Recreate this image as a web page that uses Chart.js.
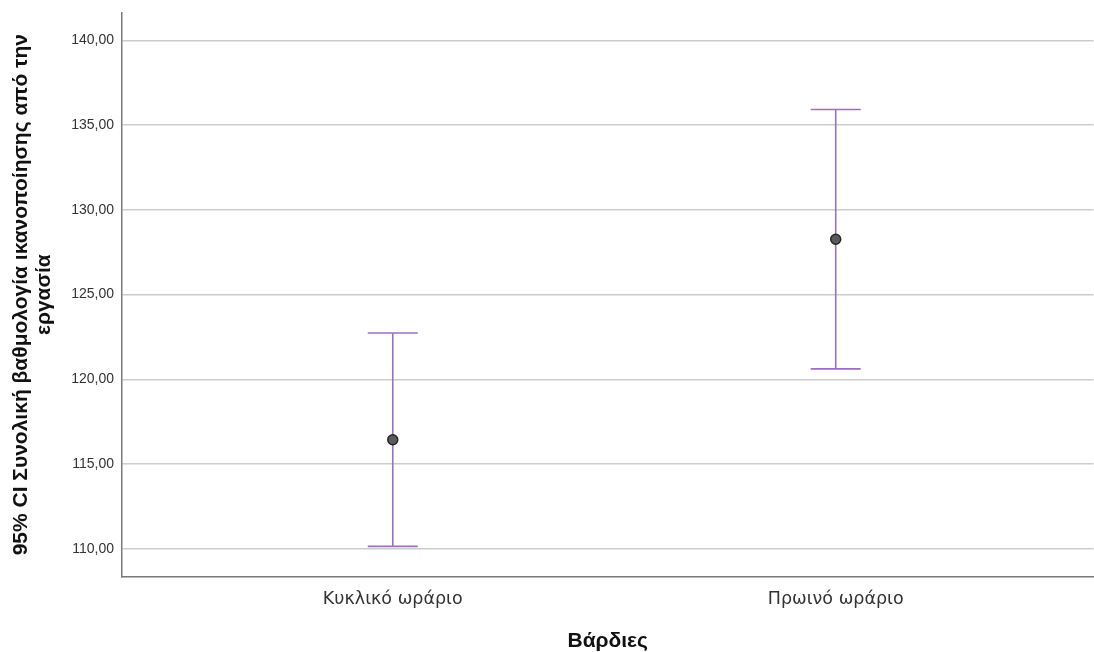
<!DOCTYPE html>
<html>
<head>
<meta charset="utf-8">
<script src="https://cdn.jsdelivr.net/npm/chart.js@4.4.1/dist/chart.umd.min.js"></script>
<style>
  html, body { margin: 0; padding: 0; background: #fff; overflow: hidden; }
  #wrap { width: 1100px; height: 656px; position: relative; margin-top: -4px; }
</style>
</head>
<body>
<div id="wrap"><canvas id="ciChart"></canvas></div>
<script>
// data
const categories = ['Κυκλικό ωράριο', 'Πρωινό ωράριο'];
const means = [116.43, 128.26];
const lowerCI = [110.14, 120.61];
const upperCI = [122.73, 135.92];
const yTicks = [110, 115, 120, 125, 130, 135, 140];

const barColor = '#9e6fc0';

// draws the CI whiskers + caps using the chart scales
const errorBars = {
    id: 'errorBars',
    beforeDatasetsDraw(chart) {
        const { ctx, scales: { x, y } } = chart;
        const capHalf = 25;
        ctx.save();
        ctx.strokeStyle = barColor;
        ctx.lineWidth = 1.6;
        categories.forEach((c, i) => {
            const px = x.getPixelForValue(i + 1);
            const top = y.getPixelForValue(upperCI[i]);
            const bot = y.getPixelForValue(lowerCI[i]);
            ctx.beginPath();
            ctx.moveTo(px, top);
            ctx.lineTo(px, bot);
            ctx.moveTo(px - capHalf, top);
            ctx.lineTo(px + capHalf, top);
            ctx.moveTo(px - capHalf, bot);
            ctx.lineTo(px + capHalf, bot);
            ctx.stroke();
        });
        ctx.restore();
    }
};

const ctx = document.getElementById('ciChart').getContext('2d');
new Chart(ctx, {
    type: 'scatter',
    data: {
        datasets: [{
            data: means.map((m, i) => ({ x: i + 1, y: m })),
            pointRadius: 5,
            pointBackgroundColor: '#5b5b5b',
            pointBorderColor: '#262626',
            pointBorderWidth: 1.5,
            showLine: false
        }]
    },
    plugins: [errorBars],
    options: {
        responsive: true,
        maintainAspectRatio: false,
        animation: false,
        layout: { padding: 0 },
        plugins: { legend: { display: false }, tooltip: { enabled: false } },
        scales: {
            x: {
                type: 'linear',
                min: 0.3887,
                max: 2.582,
                afterBuildTicks: scale => {
                    scale.ticks = categories.map((c, i) => ({ value: i + 1 }));
                },
                afterFit: scale => { scale.height = 75; },
                grid: { display: false, drawTicks: false },
                border: { color: '#7a7a7a', width: 1.5 },
                ticks: {
                    color: '#333',
                    padding: 12,
                    font: { family: 'DejaVu Sans', size: 17.5 },
                    callback: v => categories[v - 1] || ''
                },
                title: {
                    display: true,
                    text: 'Βάρδιες',
                    color: '#111',
                    padding: { top: 0, bottom: 0 },
                    font: { family: 'Liberation Sans', size: 21, weight: 'bold', lineHeight: 1.0 }
                }
            },
            y: {
                min: 108.33,
                max: 141.65,
                afterBuildTicks: scale => {
                    scale.ticks = yTicks.map(v => ({ value: v }));
                },
                afterFit: scale => { scale.width = 122; },
                grid: { color: '#cdcdcd', lineWidth: 1.5, drawTicks: false },
                border: { color: '#7a7a7a', width: 1.5 },
                ticks: {
                    color: '#333',
                    padding: 8,
                    font: { family: 'Liberation Sans', size: 14 },
                    callback: v => v.toFixed(2).replace('.', ',')
                },
                title: {
                    display: true,
                    text: ['95% CI Συνολική βαθμολογία ικανοποίησης από την', 'εργασία'],
                    color: '#111',
                    padding: { top: 9, bottom: 0 },
                    font: { family: 'Liberation Sans', size: 21, weight: 'bold', lineHeight: 1.12 }
                }
            }
        }
    }
});
</script>
</body>
</html>
